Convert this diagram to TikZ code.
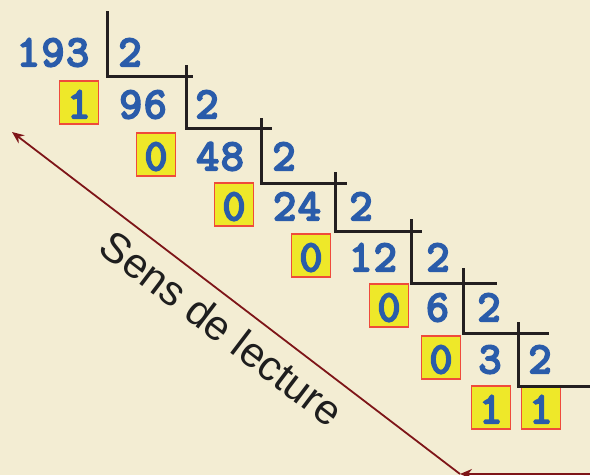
\documentclass[tikz,border=0pt]{standalone}
\usepackage{fontspec}
\setmainfont{Liberation Sans}
\newfontfamily\digitfont[FakeBold=5,LetterSpace=4.5]{Latin Modern Mono}
\usetikzlibrary{arrows.meta}
\definecolor{bg}{HTML}{F3EDD3}
\definecolor{numblue}{HTML}{2A5CAA}
\definecolor{boxyellow}{HTML}{EEE829}
\definecolor{boxred}{HTML}{EF4B3B}
\definecolor{rule}{HTML}{231F20}
\definecolor{arrowred}{HTML}{7E1518}
\definecolor{label}{HTML}{1E1E1E}
\tikzset{
  num/.style={anchor=base, inner sep=0pt, text=numblue, font=\digitfont\fontsize{44}{44}\selectfont},
  rem/.style={num, draw=boxred, line width=1.3pt, fill=boxyellow, minimum width=39pt, text height=37pt, text depth=6pt},
  stair/.style={draw=rule, line width=3pt},
  reading/.style={draw=arrowred, line width=1.8pt, -{Stealth[length=12pt,width=10pt]}},
}
\begin{document}
\begin{tikzpicture}[x=1pt,y=-1pt]
\fill[bg] (0,0) rectangle (590,475);
\useasboundingbox (0,0) rectangle (590,475);
% row 0
\node[num] (n0) at (53,66) {193};
\node[num] (d0) at (130,66) {2};
% row 1
\node[rem] (r1) at (79,118) {1};
\node[num] (n1) at (143,118) {96};
\node[num] (d1) at (207,118) {2};
% row 2
\node[rem] (r2) at (156,170) {0};
\node[num] (n2) at (220,170) {48};
\node[num] (d2) at (284,170) {2};
% row 3
\node[rem] (r3) at (234,220) {0};
\node[num] (n3) at (297,220) {24};
\node[num] (d3) at (361,220) {2};
% row 4
\node[rem] (r4) at (311,271) {0};
\node[num] (n4) at (373,271) {12};
\node[num] (d4) at (438,271) {2};
% row 5
\node[rem] (r5) at (389,321) {0};
\node[num] (n5) at (437.5,321) {6};
\node[num] (d5) at (489,321) {2};
% row 6
\node[rem] (r6) at (441,373) {0};
\node[num] (n6) at (490,373) {3};
\node[num] (d6) at (540,373) {2};
% row 7
\node[rem] (r7) at (491,423) {1};
\node[rem] (n7) at (541,423) {1};
% stairs
\draw[stair] (107,11) -- (107,76) -- (193,76);
\draw[stair] (186,65) -- (186,128) -- (272,128);
\draw[stair] (261,118) -- (261,183) -- (347,183);
\draw[stair] (335,172) -- (335,231) -- (422,231);
\draw[stair] (411,219) -- (411,283) -- (497,283);
\draw[stair] (463,268) -- (463,333) -- (549,333);
\draw[stair] (518,322) -- (518,386) -- (590,386);
% reading direction
\coordinate (corner) at (460,474);
\coordinate (top) at (12,132);
\coordinate (right) at (592,474);
\draw[reading] (corner) -- (top);
\draw[reading] (right) -- (corner);
\node[text=label, font=\fontsize{42}{42}\selectfont, rotate=-37.3, inner sep=0pt] (lbl) at (222,328) {Sens de lecture};
\end{tikzpicture}
\end{document}
